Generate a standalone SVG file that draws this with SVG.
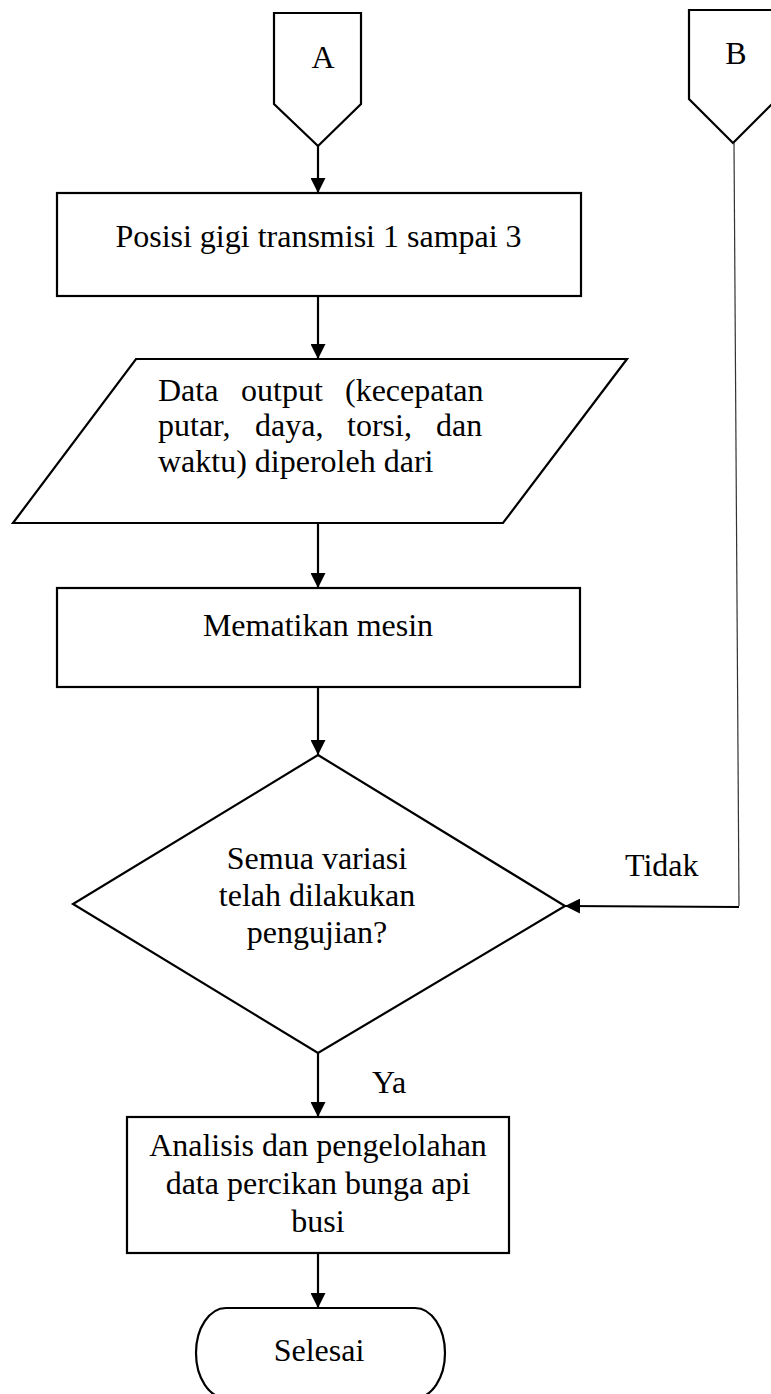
<svg xmlns="http://www.w3.org/2000/svg" width="771" height="1394" viewBox="0 0 771 1394">
<style>
.shape{fill:#fff;stroke:#000;stroke-width:2.2;stroke-linejoin:miter}
.t{font-family:"Liberation Serif","Times New Roman",serif;font-size:32px;fill:#000}
.c{text-anchor:middle}
.conn{fill:none;stroke:#000;stroke-width:2.2}
.thin{fill:none;stroke:#333;stroke-width:1.2}
</style>
<defs>
<marker id="arr" markerUnits="userSpaceOnUse" viewBox="0 0 15 15" refX="15" refY="7.5" markerWidth="15" markerHeight="15" orient="auto">
<path d="M0,0 L15,7.5 L0,15 z" fill="#000"/>
</marker>
</defs>
<rect width="771" height="1394" fill="#fff"/>
<g id="conA">
<polygon class="shape" points="274,13 361,13 361,104 318,146 274,104"/>
<text class="t c" x="323" y="68">A</text>
</g>
<g id="conB">
<polygon class="shape" points="689,10 777,10 777,99 733,143 689,99"/>
<text class="t c" x="736" y="64">B</text>
</g>
<g id="posisi">
<rect class="shape" x="57" y="193" width="524" height="103"/>
<text class="t c" x="318.5" y="247">Posisi gigi transmisi 1 sampai 3</text>
</g>
<g id="data">
<polygon class="shape" points="136,359 627,359 503,523 13,523"/>
<text class="t" y="401"><tspan x="158">Data</tspan><tspan x="241">output</tspan><tspan x="345">(kecepatan</tspan></text>
<text class="t" y="436"><tspan x="158">putar,</tspan><tspan x="255">daya,</tspan><tspan x="347">torsi,</tspan><tspan x="436">dan</tspan></text>
<text class="t" x="158" y="471.5">waktu) diperoleh dari</text>
</g>
<g id="mematikan">
<rect class="shape" x="57" y="588" width="523" height="99"/>
<text class="t c" x="318" y="636">Mematikan mesin</text>
</g>
<g id="decision">
<polygon class="shape" points="318,755 565,906 318,1053 73,904"/>
<text class="t c" x="317" y="869">Semua variasi</text>
<text class="t c" x="317" y="906">telah dilakukan</text>
<text class="t c" x="317" y="943">pengujian?</text>
</g>
<g id="analisis">
<rect class="shape" x="127" y="1117" width="382" height="136"/>
<text class="t c" x="318" y="1156">Analisis dan pengelolahan</text>
<text class="t c" x="318" y="1194">data percikan bunga api</text>
<text class="t c" x="318" y="1232">busi</text>
</g>
<g id="selesai">
<rect class="shape" x="196" y="1308" width="249" height="90" rx="30" ry="45"/>
<text class="t c" x="319" y="1361">Selesai</text>
</g>
<g id="connectors">
<line class="conn" x1="318" y1="146" x2="318" y2="193" marker-end="url(#arr)"/>
<line class="conn" x1="318" y1="296" x2="318" y2="359" marker-end="url(#arr)"/>
<line class="conn" x1="318" y1="523" x2="318" y2="588" marker-end="url(#arr)"/>
<line class="conn" x1="318" y1="687" x2="318" y2="755" marker-end="url(#arr)"/>
<line class="conn" x1="318" y1="1053" x2="318" y2="1117" marker-end="url(#arr)"/>
<line class="conn" x1="318" y1="1253" x2="318" y2="1308" marker-end="url(#arr)"/>
<polyline class="thin" points="734,143 739,906"/>
<line class="conn" x1="739" y1="907" x2="565" y2="906" marker-end="url(#arr)"/>
<text class="t" x="625" y="876">Tidak</text>
<text class="t" x="372" y="1093">Ya</text>
</g>
</svg>
